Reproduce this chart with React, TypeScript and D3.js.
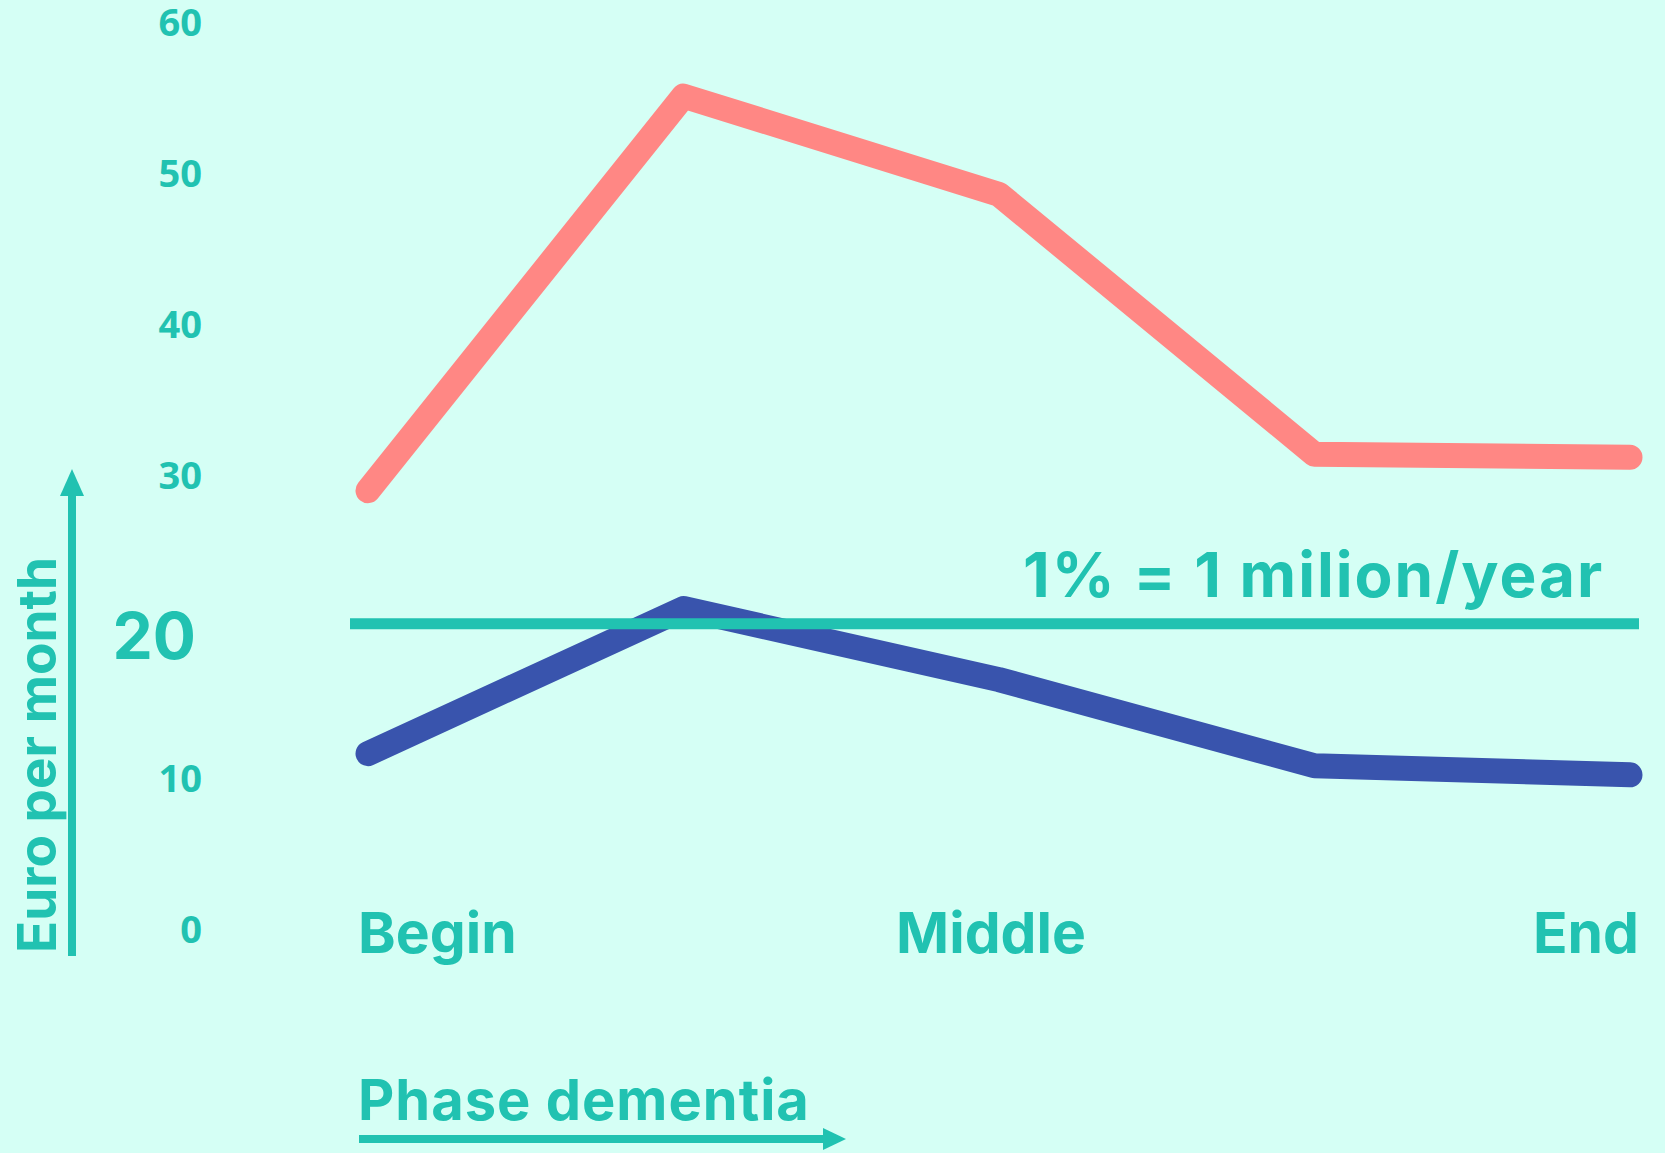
import React from "react";
import * as d3 from "d3";

const phases = [0, 1, 2, 3, 4];
const phaseLabels = ["Begin", "", "Middle", "", "End"];
const redSeries = [29.0, 55.1, 48.6, 31.4, 31.2];
const blueSeries = [11.6, 21.2, 16.5, 10.8, 10.2];
const yTicks = [0, 10, 30, 40, 50, 60];
const refValue = 20;
const refLabel = "1% = 1 milion/year";
const yTitle = "Euro per month";
const xTitle = "Phase dementia";

const W = 1665;
const H = 1153;
const BG = "#D5FFF5";
const TEAL = "#21C2B1";
const RED = "#FF8784";
const BLUE = "#3954AD";
const FONT = "Inter, 'Open Sans', sans-serif";

export default function App() {
  const x = d3.scaleLinear().domain([0, 4]).range([368, 1630]);
  const y = d3.scaleLinear().domain([0, 60]).range([929, 22]);
  const line = d3
    .line<number>()
    .x((_, i) => x(phases[i]))
    .y((d) => y(d));

  const anchors = ["start", "middle", "middle", "middle", "end"];
  const offsets = [-10, 0, -8, 0, 9];

  return (
    <svg
      width={W}
      height={H}
      style={{ position: "absolute", left: 0, top: 0, display: "block" }}
    >
      <rect x={0} y={0} width={W} height={H} fill={BG} />

      {/* y tick labels */}
      {yTicks.map((t) => (
        <text
          key={t}
          x={202}
          y={y(t)}
          dy="0.36em"
          textAnchor="end"
          fill={TEAL}
          fontFamily="'Open Sans', sans-serif"
          fontWeight={700}
          fontSize={38}
        >
          {t}
        </text>
      ))}
      <text
        x={196}
        y={y(refValue) + 9}
        dy="0.36em"
        textAnchor="end"
        fill={TEAL}
        fontFamily={FONT}
        fontWeight={700}
        fontSize={64}
      >
        {refValue}
      </text>

      {/* y axis arrow + title */}
      <line x1={72} y1={956} x2={72} y2={492} stroke={TEAL} strokeWidth={8} />
      <polygon points="72,469 60,496 84,496" fill={TEAL} />
      <text
        transform="translate(56,953) rotate(-90)"
        textAnchor="start"
        fill={TEAL}
        fontFamily={FONT}
        fontWeight={700}
        fontSize={53}
      >
        {yTitle}
      </text>

      {/* x labels */}
      {phases.map((p, i) =>
        phaseLabels[i] ? (
          <text
            key={p}
            x={x(p) + offsets[i]}
            y={953}
            textAnchor={anchors[i]}
            fill={TEAL}
            fontFamily={FONT}
            fontWeight={700}
            fontSize={57}
          >
            {phaseLabels[i]}
          </text>
        ) : null
      )}

      {/* x title + arrow */}
      <text
        x={358}
        y={1120}
        fill={TEAL}
        fontFamily={FONT}
        fontWeight={700}
        fontSize={56}
        letterSpacing={1}
      >
        {xTitle}
      </text>
      <line x1={359} y1={1139} x2={826} y2={1139} stroke={TEAL} strokeWidth={8} />
      <polygon points="846,1139 823,1128 823,1150" fill={TEAL} />

      {/* series */}
      <path
        d={line(redSeries) || ""}
        fill="none"
        stroke={RED}
        strokeWidth={25}
        strokeLinecap="round"
        strokeLinejoin="round"
      />
      <path
        d={line(blueSeries) || ""}
        fill="none"
        stroke={BLUE}
        strokeWidth={25}
        strokeLinecap="round"
        strokeLinejoin="round"
      />

      {/* reference line */}
      <line
        x1={350}
        x2={1639}
        y1={y(refValue) - 3}
        y2={y(refValue) - 3}
        stroke={TEAL}
        strokeWidth={11}
      />
      <text
        x={1023}
        y={597}
        fill={TEAL}
        fontFamily={FONT}
        fontWeight={700}
        fontSize={62}
        letterSpacing={2}
      >
        {refLabel}
      </text>
    </svg>
  );
}
